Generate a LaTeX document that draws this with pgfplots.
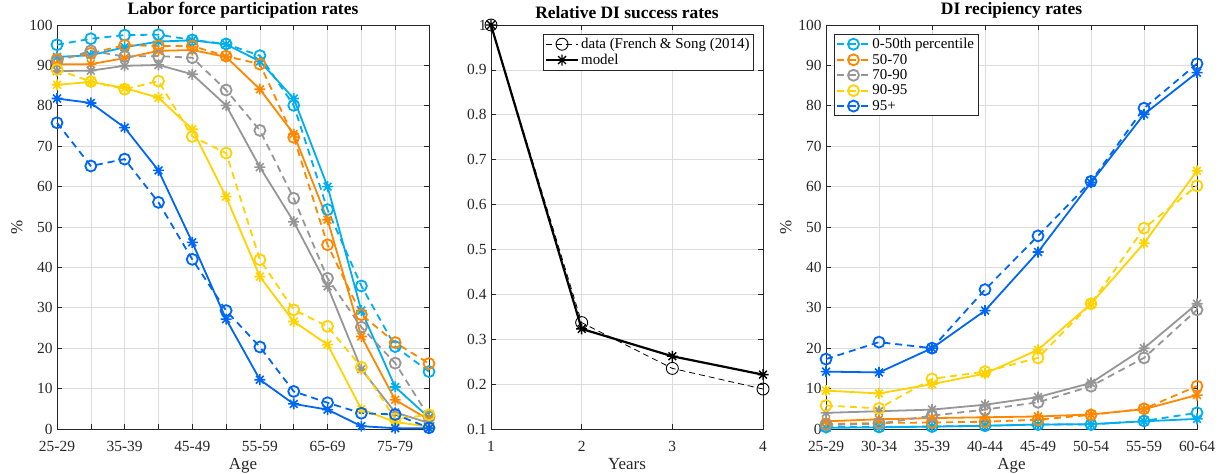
\documentclass[border=0pt]{standalone}
\usepackage{fontspec}
\setmainfont{Liberation Serif}
\usepackage{pgfplots}
\pgfplotsset{compat=1.18}

\definecolor{lb}{RGB}{0,174,239}
\definecolor{orc}{RGB}{255,135,0}
\definecolor{grc}{RGB}{150,150,150}
\definecolor{ye}{RGB}{255,210,0}
\definecolor{db}{RGB}{0,102,245}
\definecolor{axc}{RGB}{38,38,38}
\definecolor{gridc}{RGB}{220,220,220}

\pgfdeclareplotmark{mstar}{%
  \pgfpathmoveto{\pgfqpoint{0pt}{\pgfplotmarksize}}\pgfpathlineto{\pgfqpoint{0pt}{-\pgfplotmarksize}}%
  \pgfpathmoveto{\pgfqpoint{\pgfplotmarksize}{0pt}}\pgfpathlineto{\pgfqpoint{-\pgfplotmarksize}{0pt}}%
  \pgfpathmoveto{\pgfqpoint{0.707\pgfplotmarksize}{0.707\pgfplotmarksize}}\pgfpathlineto{\pgfqpoint{-0.707\pgfplotmarksize}{-0.707\pgfplotmarksize}}%
  \pgfpathmoveto{\pgfqpoint{-0.707\pgfplotmarksize}{0.707\pgfplotmarksize}}\pgfpathlineto{\pgfqpoint{0.707\pgfplotmarksize}{-0.707\pgfplotmarksize}}%
  \pgfusepathqstroke}

\pgfplotsset{
  myax/.style={scale only axis, height=404bp, anchor=south west, clip=false,
    axis line style={draw=axc, line width=0.8bp},
    tick style={draw=axc, line width=0.6bp}, major tick length=5bp, tick align=inside,
    grid=major, grid style={draw=gridc, line width=0.6bp},
    ticklabel style={font=\fontsize{15.5}{15.5}\selectfont, text=axc},
    xticklabel style={yshift=-9bp},
    yticklabel style={xshift=-1bp},
    /pgf/number format/assume math mode=true,
    label style={font=\fontsize{17}{17}\selectfont, text=axc},
    xlabel style={yshift=0bp},
    title style={font=\bfseries\fontsize{17.5}{17.5}\selectfont, yshift=-3bp},
    legend style={draw=axc, line width=0.8bp, fill=white, font=\fontsize{15}{17}\selectfont, inner sep=2bp},
    legend cell align=left,
    legend image code/.code={\draw[mark repeat=2,mark phase=2] plot coordinates {(0bp,0bp) (16bp,0bp) (32bp,0bp)};},
  },
  dat/.style={line width=1.8bp, dash pattern=on 7bp off 5bp, mark=o, mark size=5.5bp, mark options={solid, line width=1.8bp}},
  mod/.style={line width=1.8bp, mark=mstar, mark size=5.5bp, mark options={solid, line width=1.6bp}},
}

\begin{document}
\begin{tikzpicture}[x=1bp,y=1bp]
\useasboundingbox (0,0) rectangle (1222,474);

% ---------------- Left panel ----------------
\begin{axis}[myax, at={(57bp,45bp)}, width=372bp,
  xmin=0, xmax=11, ymin=0, ymax=100,
  xtick={0,1,2,3,4,5,6,7,8,9,10,11},
  xticklabels={25-29,,35-39,,45-49,,55-59,,65-69,,75-79,},
  ytick={0,10,20,30,40,50,60,70,80,90,100},
  xlabel={Age}, ylabel={\%},
  title={Labor force participation rates}]
\addplot[lb, dat] coordinates {(0,95.1)(1,96.6)(2,97.5)(3,97.6)(4,96.3)(5,95.3)(6,92.4)(7,80.1)(8,54.3)(9,35.4)(10,20.4)(11,14.2)};
\addplot[lb, mod] coordinates {(0,92.1)(1,92.5)(2,94.5)(3,95.9)(4,96.2)(5,95.2)(6,91.0)(7,81.8)(8,60.0)(9,29.3)(10,10.4)(11,2.8)};
\addplot[orc, dat] coordinates {(0,91.5)(1,93.0)(2,95.0)(3,94.8)(4,94.8)(5,92.3)(6,90.3)(7,72.2)(8,45.6)(9,28.3)(10,21.4)(11,16.2)};
\addplot[orc, mod] coordinates {(0,90.3)(1,90.3)(2,91.8)(3,93.6)(4,93.8)(5,92.1)(6,84.1)(7,73.0)(8,51.8)(9,22.9)(10,7.2)(11,2.3)};
\addplot[grc, dat] coordinates {(0,91.0)(1,93.6)(2,92.2)(3,92.3)(4,91.9)(5,83.9)(6,73.9)(7,57.1)(8,37.3)(9,25.2)(10,16.3)(11,3.0)};
\addplot[grc, mod] coordinates {(0,88.6)(1,88.7)(2,89.9)(3,90.1)(4,87.8)(5,80.1)(6,64.8)(7,51.3)(8,35.3)(9,14.8)(10,4.1)(11,1.5)};
\addplot[ye, dat] coordinates {(0,89.0)(1,86.0)(2,84.1)(3,86.1)(4,72.4)(5,68.3)(6,41.9)(7,29.5)(8,25.4)(9,15.3)(10,2.5)(11,3.5)};
\addplot[ye, mod] coordinates {(0,85.2)(1,85.9)(2,84.4)(3,82.0)(4,74.2)(5,57.5)(6,37.7)(7,26.6)(8,20.9)(9,4.9)(10,1.7)(11,0.6)};
\addplot[db, dat] coordinates {(0,75.8)(1,65.1)(2,66.8)(3,56.1)(4,42.0)(5,29.3)(6,20.3)(7,9.3)(8,6.5)(9,3.9)(10,3.6)(11,0.3)};
\addplot[db, mod] coordinates {(0,81.8)(1,80.7)(2,74.6)(3,64.0)(4,46.2)(5,27.2)(6,12.2)(7,6.2)(8,4.8)(9,0.7)(10,0.2)(11,0.2)};
\end{axis}

% ---------------- Middle panel ----------------
\begin{axis}[myax, at={(491bp,45bp)}, width=272bp,
  xmin=1, xmax=4, ymin=0.1, ymax=1,
  xtick={1,2,3,4},
  ytick={0.1,0.2,0.3,0.4,0.5,0.6,0.7,0.8,0.9,1},
  yticklabels={0.1,0.2,0.3,0.4,0.5,0.6,0.7,0.8,0.9,1},
  xlabel={Years},
  title={Relative DI success rates},
  legend style={at={(0.967,0.978)}, anchor=north east}]
\addplot[black, line width=0.8bp, dash pattern=on 6bp off 4bp, mark=o, mark size=6bp, mark options={solid, line width=0.9bp}] coordinates {(1,1)(2,0.337)(3,0.235)(4,0.189)};
\addlegendentry{data (French \& Song (2014)}
\addplot[black, line width=2.2bp, mark=mstar, mark size=5.5bp, mark options={solid, line width=1.4bp}] coordinates {(1,1)(2,0.323)(3,0.262)(4,0.221)};
\addlegendentry{model}
\end{axis}

% ---------------- Right panel ----------------
\begin{axis}[myax, at={(826bp,45bp)}, width=371bp,
  xmin=0, xmax=7, ymin=0, ymax=100,
  xtick={0,1,2,3,4,5,6,7},
  xticklabels={25-29,30-34,35-39,40-44,45-49,50-54,55-59,60-64},
  ytick={0,10,20,30,40,50,60,70,80,90,100},
  xlabel={Age}, ylabel={\%},
  title={DI recipiency rates},
  legend style={at={(0.022,0.978)}, anchor=north west}]
\addplot[lb, dat] coordinates {(0,0.5)(1,0.5)(2,0.6)(3,0.8)(4,1.1)(5,1.1)(6,2.0)(7,4.0)};
\addlegendentry{0-50th percentile}
\addplot[lb, mod, forget plot] coordinates {(0,0.3)(1,0.4)(2,0.6)(3,0.8)(4,1.1)(5,1.2)(6,1.9)(7,2.5)};
\addplot[orc, dat] coordinates {(0,1.2)(1,1.5)(2,1.6)(3,1.8)(4,2.3)(5,3.5)(6,5.0)(7,10.6)};
\addlegendentry{50-70}
\addplot[orc, mod, forget plot] coordinates {(0,1.9)(1,2.4)(2,2.7)(3,2.9)(4,3.1)(5,3.6)(6,4.9)(7,8.4)};
\addplot[grc, dat] coordinates {(0,1.0)(1,1.3)(2,3.3)(3,4.8)(4,6.6)(5,10.6)(6,17.6)(7,29.5)};
\addlegendentry{70-90}
\addplot[grc, mod, forget plot] coordinates {(0,4.0)(1,4.4)(2,4.8)(3,6.0)(4,7.9)(5,11.4)(6,20.0)(7,31.0)};
\addplot[ye, dat] coordinates {(0,5.8)(1,5.1)(2,12.4)(3,14.2)(4,17.6)(5,31.0)(6,49.7)(7,60.2)};
\addlegendentry{90-95}
\addplot[ye, mod, forget plot] coordinates {(0,9.5)(1,8.8)(2,11.1)(3,13.7)(4,19.6)(5,31.0)(6,46.0)(7,63.9)};
\addplot[db, dat] coordinates {(0,17.3)(1,21.5)(2,20.0)(3,34.5)(4,47.8)(5,61.3)(6,79.4)(7,90.4)};
\addlegendentry{95+}
\addplot[db, mod, forget plot] coordinates {(0,14.2)(1,14.0)(2,20.0)(3,29.3)(4,43.8)(5,61.0)(6,77.9)(7,88.2)};
\end{axis}
\end{tikzpicture}
\end{document}
